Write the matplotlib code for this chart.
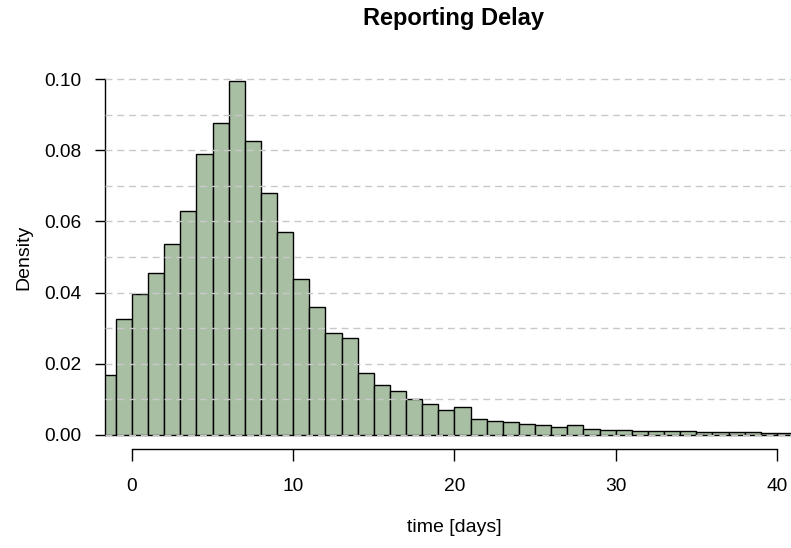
#!/usr/bin/env python

# histogram of the reporting delay, drawn in the style of an R base plot

import matplotlib
matplotlib.use("Agg")
import matplotlib.pyplot as plt
import numpy as np

# one-day bins, left edges from -2 to 40
bin_left = np.arange(-2, 41)
density = [0.0167, 0.0327, 0.0395, 0.0454, 0.0536, 0.0630, 0.0791, 0.0878,
           0.0994, 0.0827, 0.0681, 0.0569, 0.0437, 0.0360, 0.0287, 0.0272,
           0.0174, 0.0139, 0.0124, 0.0102, 0.0086, 0.0071, 0.0077, 0.0045,
           0.0040, 0.0037, 0.0031, 0.0027, 0.0023, 0.0027, 0.0015, 0.0014,
           0.0014, 0.0012, 0.0011, 0.0011, 0.0012, 0.0008, 0.0008, 0.0007,
           0.0007, 0.0006, 0.0005]
x_ticks = [0, 10, 20, 30, 40]
y_ticks = [0.00, 0.02, 0.04, 0.06, 0.08, 0.10]
grid_levels = np.arange(0, 0.1001, 0.01)

W, H = 791, 548
plt.rcParams['font.family'] = ['Liberation Sans', 'DejaVu Sans']

fig = plt.figure(figsize=(W / 100, H / 100), dpi=100)
# plot region in pixels: left 105, bottom 449, top 65, runs off the right edge
ax = fig.add_axes([105 / W, (H - 449) / H, (W - 105) / W, (449 - 65) / H])

ax.bar(bin_left, density, width=1, align='edge', color='#a9bfa4',
       edgecolor='black', linewidth=1.0, zorder=2)

for lev in grid_levels:
    ax.axhline(lev, color='#c8c8c8', linewidth=1.0, linestyle=(0, (5, 3.5)),
               zorder=3)

ax.set_xlim(-1.674, 40.87)
ax.set_ylim(-0.004, 0.104)

for side in ['top', 'right']:
    ax.spines[side].set_visible(False)
ax.spines['left'].set_bounds(0, 0.10)
ax.spines['bottom'].set_bounds(0, 40)
for side in ['left', 'bottom']:
    ax.spines[side].set_linewidth(1.0)

ax.set_xticks(x_ticks)
ax.set_xticklabels([str(t) for t in x_ticks])
ax.set_yticks(y_ticks)
ax.set_yticklabels(['%.2f' % t for t in y_ticks])
ax.tick_params(axis='x', direction='out', length=8.5, width=1.0, pad=12.5,
               labelsize=13.8)
ax.tick_params(axis='y', direction='out', length=7.5, width=1.0, pad=9.5,
               labelsize=13.8)

fig.text(454 / W, 1 - 18 / H, 'Reporting Delay', ha='center', va='center',
         fontsize=17, fontweight='bold')
fig.text(454 / W, 1 - 528 / H, 'time [days]', ha='center', va='center',
         fontsize=14)
fig.text(24 / W, 1 - 257 / H, 'Density', ha='center', va='center',
         rotation=90, fontsize=14)

fig.savefig('out.png', dpi=100)
